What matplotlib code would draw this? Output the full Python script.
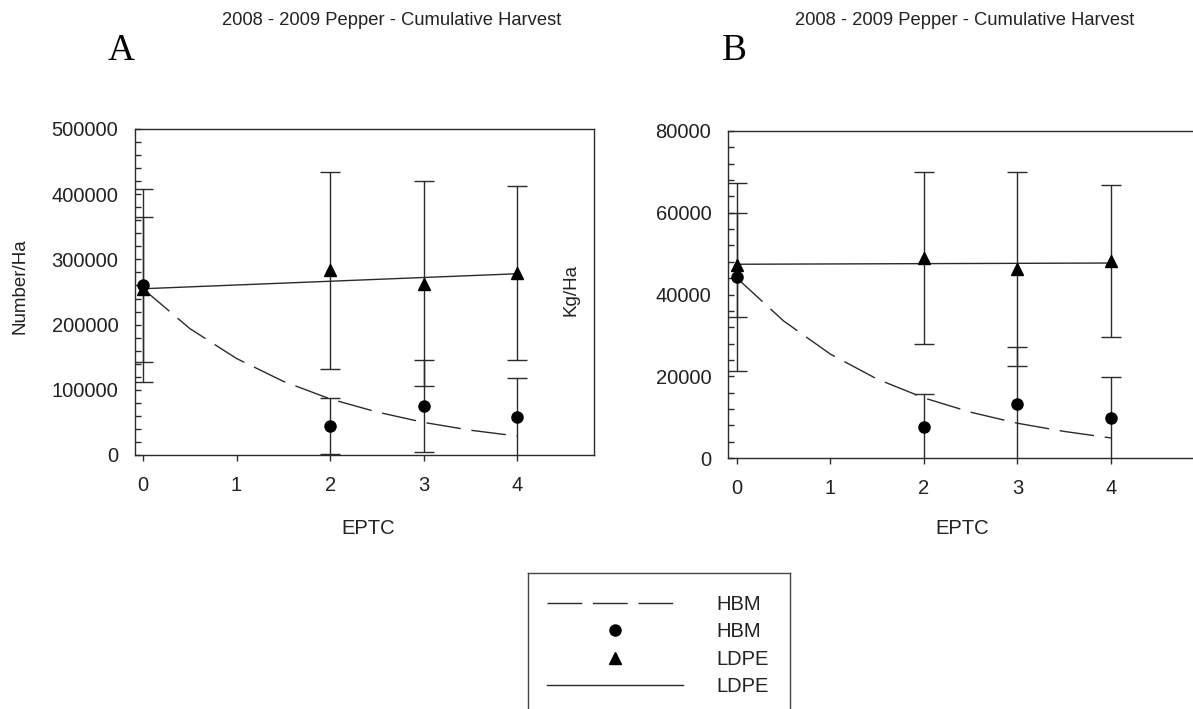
import numpy as np
import matplotlib
matplotlib.use("Agg")
import matplotlib.pyplot as plt
from matplotlib.lines import Line2D
from matplotlib.ticker import MultipleLocator, FuncFormatter

plt.rcParams['font.family'] = ['Liberation Sans', 'DejaVu Sans']
plt.rcParams['lines.scale_dashes'] = False

# EPTC rates
eptc = [0, 2, 3, 4]

# Panel A - Number/Ha
hbm_num = [260000, 45000, 75000, 58000]
hbm_num_err = [148000, 43000, 70500, 60000]
ldpe_num = [254000, 283000, 263000, 279000]
ldpe_num_err = [111500, 151500, 157000, 133000]

# Panel B - Kg/Ha
hbm_kg = [44300, 7600, 13200, 9800]
hbm_kg_err = [23000, 8000, 13900, 10000]
ldpe_kg = [47200, 48900, 46200, 48200]
ldpe_kg_err = [12800, 21000, 23700, 18550]

# fitted lines
fit_x = [0, 0.5, 1, 1.5, 2, 2.5, 3, 3.5, 4]
hbm_num_fit = [255000, 194000, 148000, 113000, 86000, 66000, 50000, 38000, 29000]
hbm_kg_fit = [44000, 33500, 25400, 19300, 14700, 11200, 8500, 6500, 4900]
ldpe_fit_x = [0, 4]
ldpe_num_fit = [255000, 278000]
ldpe_kg_fit = [47400, 47700]

title = "2008 - 2009 Pepper - Cumulative Harvest"
legend_labels = ['HBM', 'HBM', 'LDPE', 'LDPE']

W, H = 1193, 709
fig = plt.figure(figsize=(W / 100, H / 100), dpi=100)

line_col = '#2b2b2b'
dash = (0, (25, 7.75))


def px_axes(l, t, r, b):
    return fig.add_axes([l / W, 1 - b / H, (r - l) / W, (b - t) / H])


def draw_panel(ax, hbm, hbm_err, ldpe, ldpe_err, hbm_fit, ldpe_fit, ymax, major, minor):
    ax.errorbar(eptc, hbm, yerr=hbm_err, fmt='o', color='black', ms=8,
                ecolor=line_col, elinewidth=1, capsize=7, capthick=1, zorder=3)
    ax.errorbar(eptc, ldpe, yerr=ldpe_err, fmt='^', color='black', ms=9,
                ecolor=line_col, elinewidth=1, capsize=7, capthick=1, zorder=3)
    ax.plot(fit_x, hbm_fit, color=line_col, lw=1, linestyle=dash, zorder=2)
    ax.plot(ldpe_fit_x, ldpe_fit, color=line_col, lw=1, zorder=2)
    ax.set_ylim(0, ymax)
    ax.set_xticks([0, 1, 2, 3, 4])
    ax.yaxis.set_major_locator(MultipleLocator(major))
    ax.yaxis.set_minor_locator(MultipleLocator(minor))
    ax.yaxis.set_major_formatter(FuncFormatter(lambda v, p: '%d' % v))
    ax.tick_params(axis='y', which='both', direction='in', length=4, width=1,
                   color=line_col, labelsize=14.5, pad=12, labelcolor='#222222')
    ax.tick_params(axis='x', direction='out', length=4, width=1,
                   color=line_col, labelsize=14.5, pad=11, labelcolor='#222222')
    for s in ax.spines.values():
        s.set_color(line_col)
        s.set_linewidth(1)
    ax.set_xlabel('EPTC', fontsize=14.5, color='#222222', va='center')


# Panel A
axA = px_axes(135, 129, 594, 455)
draw_panel(axA, hbm_num, hbm_num_err, ldpe_num, ldpe_num_err,
           hbm_num_fit, ldpe_num_fit, 500000, 100000, 20000)
axA.set_xlim(-0.085, 4.82)
axA.set_ylabel('Number/Ha', fontsize=13.5, color='#222222', va='center')
axA.yaxis.set_label_coords(-0.25, 0.518)
axA.xaxis.set_label_coords(0.508, -0.224)

# Panel B
axB = px_axes(728, 131, 1197, 458)
draw_panel(axB, hbm_kg, hbm_kg_err, ldpe_kg, ldpe_kg_err,
           hbm_kg_fit, ldpe_kg_fit, 80000, 20000, 4000)
axB.set_xlim(-0.096, 4.92)
axB.set_ylabel('Kg/Ha', fontsize=13.5, color='#222222', va='center')
axB.yaxis.set_label_coords(-0.335, 0.514)
axB.xaxis.set_label_coords(0.5, -0.217)

# titles and panel letters
fig.text(222 / W, 1 - 12 / H, title, fontsize=13.2, color='#222222', va='top', ha='left')
fig.text(795 / W, 1 - 12 / H, title, fontsize=13.2, color='#222222', va='top', ha='left')
fig.text(108 / W, 1 - 60 / H, 'A', fontsize=27, family='Liberation Serif', va='baseline')
fig.text(722 / W, 1 - 60 / H, 'B', fontsize=27, family='Liberation Serif', va='baseline')

# legend box (bottom edge runs off the page)
lax = px_axes(528, 573, 790, 740)
lax.set_xticks([])
lax.set_yticks([])
for s in lax.spines.values():
    s.set_color('#444444')
    s.set_linewidth(1)
handles = [
    Line2D([], [], color=line_col, lw=1, linestyle=dash),
    Line2D([], [], color='black', marker='o', ms=8, linestyle='none'),
    Line2D([], [], color='black', marker='^', ms=9, linestyle='none'),
    Line2D([], [], color=line_col, lw=1),
]
lax.legend(handles, legend_labels, loc='upper left', bbox_to_anchor=(0.073, 0.87),
           frameon=False, fontsize=14.5, handlelength=6.75, handletextpad=1.65,
           labelspacing=0.42, borderpad=0, borderaxespad=0, numpoints=1,
           labelcolor='#222222')

fig.savefig('out.png', dpi=100)
